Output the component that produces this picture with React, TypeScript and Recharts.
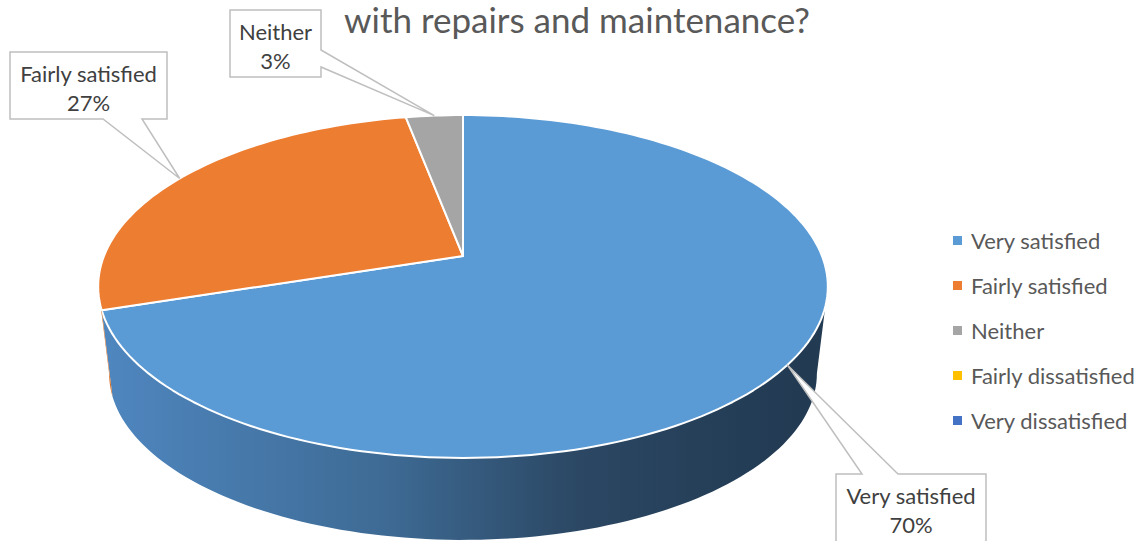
import { PieChart, Pie, Cell, Legend } from "recharts";

const categories = ["Very satisfied", "Fairly satisfied", "Neither", "Fairly dissatisfied", "Very dissatisfied"];
const shares = [70, 27, 3, 0, 0];
const colors = ["#5B9BD5", "#ED7D31", "#A5A5A5", "#FFC000", "#4472C4"];
const titleLine = "with repairs and maintenance?";

const data = categories.map((name, i) => ({ name, value: shares[i] }));

// side wall shading, left -> right
const wallTones = [
  ["#4f87c0", "#3e6b95", "#2b4763", "#223a52"],
  ["#d9732c", "#b45e22", "#8a4718", "#6e3913"],
  ["#9a9a9a", "#7d7d7d", "#606060", "#4d4d4d"],
  ["#e6ad00", "#b88a00", "#8c6900", "#705400"],
  ["#3f69b4", "#32548f", "#263f6c", "#1e3256"],
];

// fake 3D disc: tilt, perspective, rim depth
const TILT = 0.4624;
const PERSP = 0.178;
const SHRINK = 0.97;
const DEPTH = 88;
const RAD = Math.PI / 180;
const FRONT = Math.asin(PERSP) / RAD;

// callout boxes, same order as categories
const callouts = [
  { x: 836, y: 474, w: 150, h: 80, side: "top", a: 26, b: 62 },
  { x: 10, y: 52, w: 157, h: 67, side: "bottom", a: 93, b: 132 },
  { x: 230, y: 10, w: 91, h: 67, side: "right", a: 40, b: 57 },
];

const FONT = "Lato, 'Noto Sans', sans-serif";

function project(cx: number, cy: number, r: number, angle: number, bottom = false) {
  const u = Math.cos(angle * RAD);
  const v = -Math.sin(angle * RAD);
  const d = 1 - PERSP * v;
  const s = bottom ? SHRINK : 1;
  return [cx + (s * r * u) / d, cy + (s * r * TILT * v) / d + (bottom ? DEPTH : 0)];
}

function arc(cx: number, cy: number, r: number, a0: number, a1: number, bottom = false) {
  const n = Math.max(2, Math.ceil(Math.abs(a1 - a0) / 1.5));
  const pts: number[][] = [];
  for (let i = 0; i <= n; i++) pts.push(project(cx, cy, r, a0 + ((a1 - a0) * i) / n, bottom));
  return pts;
}

const DiscSector = (props: any) => {
  const { cx, cy, outerRadius, startAngle, endAngle, fill, index } = props;
  if (Math.abs(endAngle - startAngle) < 0.01) return null;
  const top = arc(cx, cy, outerRadius, startAngle, endAngle);
  const topPath = `M${cx},${cy}` + top.map((p) => `L${p[0].toFixed(2)},${p[1].toFixed(2)}`).join("") + "Z";

  const lo = Math.max(Math.min(startAngle, endAngle), -180 + FRONT);
  const hi = Math.min(Math.max(startAngle, endAngle), -FRONT);
  let wall = null;
  const gid = `wall-${index}`;
  if (hi > lo) {
    const t = arc(cx, cy, outerRadius, hi, lo);
    const b = arc(cx, cy, outerRadius, lo, hi, true);
    const d = "M" + [...t, ...b].map((p) => `${p[0].toFixed(2)},${p[1].toFixed(2)}`).join("L") + "Z";
    const tones = wallTones[index] || wallTones[0];
    wall = (
      <>
        <defs>
          <linearGradient id={gid} gradientUnits="userSpaceOnUse" x1={cx - outerRadius * 1.02} x2={cx + outerRadius * 1.02} y1={0} y2={0}>
            <stop offset="0" stopColor={tones[0]} />
            <stop offset="0.39" stopColor={tones[1]} />
            <stop offset="0.66" stopColor={tones[2]} />
            <stop offset="0.96" stopColor={tones[3]} />
          </linearGradient>
        </defs>
        <path d={d} fill={`url(#${gid})`} />
      </>
    );
  }
  return (
    <g>
      {wall}
      <path d={topPath} fill={fill} stroke="#ffffff" strokeWidth={2} strokeLinejoin="round" />
    </g>
  );
};

function calloutPath(box: any, tx: number, ty: number) {
  const { x, y, w, h, side, a, b } = box;
  const pts: number[][] = [[x, y]];
  if (side === "top") pts.push([x + a, y], [tx, ty], [x + b, y]);
  pts.push([x + w, y]);
  if (side === "right") pts.push([x + w, y + a], [tx, ty], [x + w, y + b]);
  pts.push([x + w, y + h]);
  if (side === "bottom") pts.push([x + b, y + h], [tx, ty], [x + a, y + h]);
  pts.push([x, y + h]);
  return "M" + pts.map((p) => `${p[0].toFixed(1)},${p[1].toFixed(1)}`).join("L") + "Z";
}

const renderCallout = (props: any) => {
  const { cx, cy, outerRadius, midAngle, index, name, percent } = props;
  const box = callouts[index];
  if (!box || !percent) return null;
  const [tx, ty] = project(cx, cy, outerRadius, midAngle);
  const mid = box.x + box.w / 2;
  return (
    <g>
      <path d={calloutPath(box, tx, ty)} fill="#ffffff" stroke="#bfbfbf" strokeWidth={1.5} />
      <text x={mid} y={box.y + 21} textAnchor="middle" dominantBaseline="central" fontFamily={FONT} fontSize={22} fill="#404040">
        {name}
      </text>
      <text x={mid} y={box.y + 50} textAnchor="middle" dominantBaseline="central" fontFamily={FONT} fontSize={22} fill="#404040">
        {`${Math.round(percent * 100)}%`}
      </text>
    </g>
  );
};

const LegendList = ({ payload }: any) => {
  const items = [...(payload || [])].sort((a: any, b: any) => categories.indexOf(a.value) - categories.indexOf(b.value));
  return (
    <div style={{ fontFamily: FONT }}>
      {items.map((item: any) => (
        <div key={item.value} style={{ height: 45, display: "flex", alignItems: "center" }}>
          <span style={{ width: 9, height: 9, background: item.color, marginRight: 9, display: "inline-block" }} />
          <span style={{ fontSize: 22, color: "#595959", whiteSpace: "nowrap" }}>{item.value}</span>
        </div>
      ))}
    </div>
  );
};

export default function App() {
  return (
    <div style={{ position: "absolute", left: 0, top: 0, width: 1144, height: 541, background: "#fff", overflow: "hidden" }}>
      <div
        style={{
          position: "absolute",
          left: 277,
          top: 4,
          width: 600,
          textAlign: "center",
          fontFamily: FONT,
          fontSize: 35,
          color: "#595959",
          lineHeight: "30px",
          whiteSpace: "nowrap",
        }}
      >
        {titleLine}
      </div>
      <PieChart width={1144} height={541} margin={{ top: 0, right: 0, bottom: 0, left: 0 }}>
        <Pie
          data={data}
          dataKey="value"
          nameKey="name"
          cx={463}
          cy={256}
          outerRadius={359}
          startAngle={90}
          endAngle={-270}
          stroke="none"
          shape={DiscSector}
          label={renderCallout}
          labelLine={false}
          isAnimationActive={false}
        >
          {data.map((d, i) => (
            <Cell key={d.name} fill={colors[i]} />
          ))}
        </Pie>
        <Legend
          layout="vertical"
          align="right"
          verticalAlign="middle"
          content={LegendList}
          wrapperStyle={{ left: 953, top: 218, right: "auto", bottom: "auto", width: 191 }}
        />
      </PieChart>
    </div>
  );
}
